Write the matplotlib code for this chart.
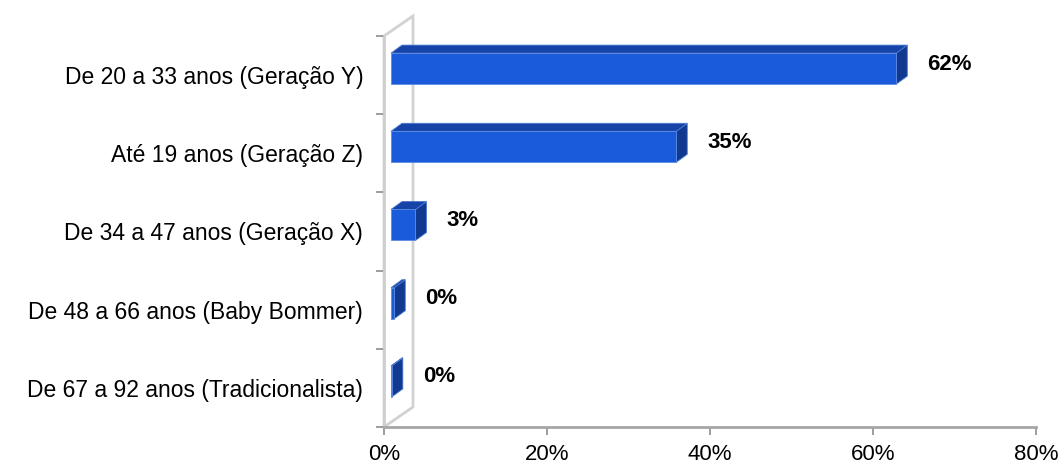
import matplotlib
matplotlib.use("Agg")
import matplotlib.pyplot as plt
from matplotlib.patches import Polygon
from matplotlib.ticker import FuncFormatter

plt.rcParams["font.family"] = ["Liberation Sans", "DejaVu Sans"]

# dados (de baixo para cima)
categorias = [
    "De 67 a 92 anos (Tradicionalista)",
    "De 48 a 66 anos (Baby Bommer)",
    "De 34 a 47 anos (Geração X)",
    "Até 19 anos (Geração Z)",
    "De 20 a 33 anos (Geração Y)",
]
valores = [0.1, 0.4, 3.0, 35.0, 62.0]
rotulos = ["0%", "0%", "3%", "35%", "62%"]

W, H = 1064, 466
fig = plt.figure(figsize=(W / 100, H / 100), dpi=100)
ax = fig.add_axes([384 / W, 1 - 427 / H, 652 / W, 391 / H])
ax.set_xlim(0, 80)
ax.set_ylim(-0.5, 4.5)

# conversao pixel -> dados
px = 80 / 652
py = 5 / 391

# parede lateral 3D
wx, wy = 29 * px, 20 * py
parede = Polygon([(0, -0.5), (0, 4.5), (wx, 4.5 + wy), (wx, -0.5 + wy)],
                 closed=True, facecolor="white", edgecolor="#d2d2d2",
                 linewidth=2, clip_on=False, zorder=1)
ax.add_patch(parede)

# barras 3D
cor_frente = "#1a5bdc"
cor_topo = "#1543a8"
cor_lado = "#10398f"
x0 = 7 * px
dy0 = 6.5 * py
meia = 15.5 * py
ddx, ddy = 11 * px, 8 * py
for i, v in enumerate(valores):
    x1 = x0 + v
    yb = i + dy0 - meia
    yt = i + dy0 + meia
    lado = Polygon([(x1, yb), (x1, yt), (x1 + ddx, yt + ddy), (x1 + ddx, yb + ddy)],
                   closed=True, facecolor=cor_lado, edgecolor="#4a78d0",
                   linewidth=0.6, zorder=3)
    topo = Polygon([(x0, yt), (x1, yt), (x1 + ddx, yt + ddy), (x0 + ddx, yt + ddy)],
                   closed=True, facecolor=cor_topo, edgecolor="#4a78d0",
                   linewidth=0.6, zorder=3)
    ax.add_patch(lado)
    ax.add_patch(topo)
    ax.barh(i + dy0, v, left=x0, height=2 * meia, color=cor_frente,
            edgecolor="#5d8ae0", linewidth=0.6, zorder=4)
    ax.text(v + 4.7, i + 0.14, rotulos[i], ha="left", va="center",
            fontsize=16, fontweight="bold", color="black", zorder=5)

# eixos
for s in ["top", "right"]:
    ax.spines[s].set_visible(False)
ax.spines["left"].set_color("#cfcfcf")
ax.spines["left"].set_linewidth(2)
ax.spines["left"].set_zorder(2)
ax.spines["bottom"].set_color("#a6a6a6")
ax.spines["bottom"].set_linewidth(2)

ax.set_xticks([0, 20, 40, 60, 80])
ax.xaxis.set_major_formatter(FuncFormatter(lambda x, p: f"{x:.0f}%"))
ax.tick_params(axis="x", length=6, width=1.2, color="#8c8c8c", pad=6,
               labelsize=16)

ax.set_yticks([-0.5, 0.5, 1.5, 2.5, 3.5, 4.5])
ax.set_yticklabels([])
ax.tick_params(axis="y", which="major", length=6, width=1.2, color="#8c8c8c")
ax.set_yticks(range(len(categorias)), minor=True)
ax.set_yticklabels(categorias, minor=True)
ax.tick_params(axis="y", which="minor", length=0, pad=15, labelsize=16.5)

fig.savefig("out.png", dpi=100)
